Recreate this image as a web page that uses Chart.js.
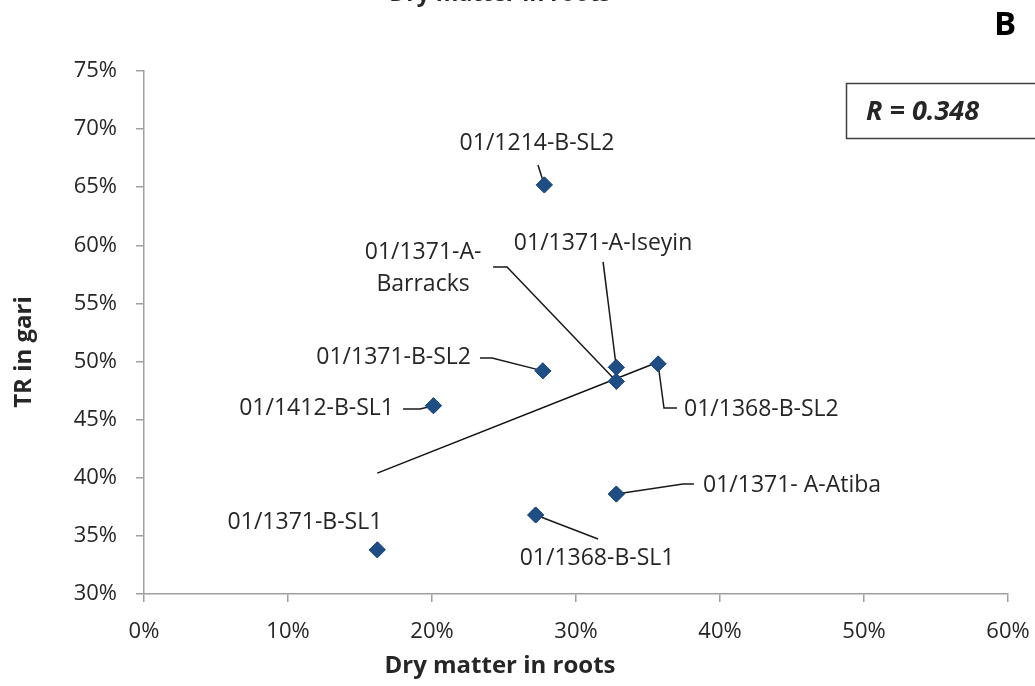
<!DOCTYPE html>
<html><head><meta charset="utf-8">
<script src="https://cdn.jsdelivr.net/npm/chart.js@4.4.1/dist/chart.umd.min.js"></script>
<style>html,body{margin:0;padding:0;background:#fff;}#wrap{width:1035px;height:686px;position:relative;}</style>
</head><body><div id="wrap"><canvas id="c" width="1035" height="686"></canvas></div>
<script>
// ---- data (percent units) ----
const genotypes = ['01/1214-B-SL2','01/1371-A-Iseyin','01/1371-A-Barracks','01/1371-B-SL2','01/1368-B-SL2','01/1412-B-SL1','01/1371- A-Atiba','01/1368-B-SL1','01/1371-B-SL1'];
const dryMatter = [27.8, 32.8, 32.8, 27.7, 35.7, 20.1, 32.8, 27.2, 16.2];
const trInGari  = [65.2, 49.5, 48.3, 49.2, 49.8, 46.2, 38.6, 36.8, 33.8];
const trendX = [16.2, 35.8];
const trendY = [40.4, 50.0];
const xTicks = [0, 10, 20, 30, 40, 50, 60];
const yTicks = [30, 35, 40, 45, 50, 55, 60, 65, 70, 75];
const xTitle = 'Dry matter in roots';
const yTitle = 'TR in gari';
const chartTitle = 'Dry matter in roots';
const rText = 'R = 0.348';

// ---- label annotations (data coords) ----
const labelCfg = [
  {lines:['01/1214-B-SL2'], at:[27.29,68.80], align:'center', leader:[[27.36,66.91]]},
  {lines:['01/1371-A-Iseyin'], at:[31.88,60.20], align:'center', leader:[[31.88,58.57]]},
  {lines:['01/1371-A-','Barracks'], at:[19.38,58.05], align:'center', leader:[[24.24,58.14],[25.21,58.14]]},
  {lines:['01/1371-B-SL2'], at:[22.71,50.31], align:'right', leader:[[23.33,50.31],[24.17,50.31]]},
  {lines:['01/1368-B-SL2'], at:[37.5,45.92], align:'left', leader:[[37.01,46.0],[36.11,46.0]]},
  {lines:['01/1412-B-SL1'], at:[17.36,46.0], align:'right', leader:[[17.99,45.92],[19.17,45.92]]},
  {lines:['01/1371- A-Atiba'], at:[38.82,39.38], align:'left', leader:[[38.19,39.46],[37.43,39.46]]},
  {lines:['01/1368-B-SL1'], at:[31.46,33.10], align:'center', leader:[[31.53,34.73]]},
  {lines:['01/1371-B-SL1'], at:[11.18,36.19], align:'center', leader:[]}
];

const FONT = "'Open Sans', 'DejaVu Sans', sans-serif";
const TXT = '#262626';
const AX = '#a0a0a0';

const labelPlugin = {
  id: 'labels',
  afterDatasetsDraw(chart) {
    const {ctx, scales:{x, y}} = chart;
    ctx.save();
    ctx.strokeStyle = '#1a1a1a';
    ctx.lineWidth = 1.5;
    labelCfg.forEach((c, i) => {
      if (c.leader.length) {
        ctx.beginPath();
        c.leader.forEach((p, k) => {
          const px = x.getPixelForValue(p[0]), py = y.getPixelForValue(p[1]);
          if (k === 0) ctx.moveTo(px, py); else ctx.lineTo(px, py);
        });
        ctx.lineTo(x.getPixelForValue(dryMatter[i]), y.getPixelForValue(trInGari[i]));
        ctx.stroke();
      }
      ctx.fillStyle = TXT;
      ctx.font = '23px ' + FONT;
      ctx.textAlign = c.align;
      ctx.textBaseline = 'middle';
      const cx = x.getPixelForValue(c.at[0]), cy = y.getPixelForValue(c.at[1]);
      const lh = 32;
      c.lines.forEach((t, k) => {
        ctx.fillText(t, cx, cy + (k - (c.lines.length - 1) / 2) * lh);
      });
    });
    const meta = chart.getDatasetMeta(0);
    meta.data.forEach(el => el.draw(ctx, chart.chartArea));
    ctx.restore();
  },
  afterDraw(chart) {
    const {ctx} = chart;
    ctx.save();
    ctx.fillStyle = TXT;
    ctx.font = 'bold 23px ' + FONT;
    ctx.textAlign = 'center';
    ctx.textBaseline = 'alphabetic';
    ctx.fillText(chartTitle, 500, 1);
    // axis titles
    ctx.font = 'bold 24px ' + FONT;
    ctx.textBaseline = 'middle';
    ctx.fillText(xTitle, 500, 666);
    ctx.save();
    ctx.translate(24, 352);
    ctx.rotate(-Math.PI / 2);
    ctx.fillText(yTitle, 0, 0);
    ctx.restore();
    // panel letter
    ctx.fillStyle = '#000';
    ctx.font = 'bold 33px ' + FONT;
    ctx.fillText('B', 1005, 26);
    // R box
    ctx.strokeStyle = '#404040';
    ctx.lineWidth = 1.5;
    ctx.strokeRect(846.5, 83.5, 200, 55);
    ctx.fillStyle = TXT;
    ctx.font = 'italic bold 27px ' + FONT;
    ctx.textAlign = 'left';
    ctx.fillText(rText, 866, 112);
    ctx.restore();
  }
};

new Chart(document.getElementById('c'), {
  type: 'scatter',
  data: {
    datasets: [
      {
        label: 'TR in gari',
        data: dryMatter.map((v, i) => ({x: v, y: trInGari[i]})),
        pointStyle: 'rectRot',
        pointRadius: 8,
        pointBackgroundColor: '#1F4E84',
        pointBorderColor: '#1F4E84',
        pointBorderWidth: 1,
        order: 0
      },
      {
        label: 'Trend',
        data: trendX.map((v, i) => ({x: v, y: trendY[i]})),
        showLine: true,
        borderColor: '#111',
        borderWidth: 1.5,
        pointRadius: 0,
        order: 1
      }
    ]
  },
  options: {
    responsive: false,
    animation: false,
    layout: {padding: {left: 0, right: 27, top: 71, bottom: 0}},
    plugins: {legend: {display: false}, tooltip: {enabled: false}, title: {display: false}},
    scales: {
      x: {
        type: 'linear', min: 0, max: 60,
        afterBuildTicks: s => { s.ticks = xTicks.map(v => ({value: v})); },
        afterFit: s => { s.height = 92; s.paddingRight = 0; s.paddingLeft = 0; },
        ticks: {callback: v => v + '%', font: {family: FONT, size: 22}, color: TXT, padding: 17, maxRotation: 0},
        grid: {drawOnChartArea: false, tickLength: 8, color: AX, lineWidth: 1.5},
        border: {color: AX, width: 1.5}
      },
      y: {
        type: 'linear', min: 30, max: 75,
        afterBuildTicks: s => { s.ticks = yTicks.map(v => ({value: v})); },
        afterFit: s => { s.width = 144; s.paddingTop = 0; s.paddingBottom = 0; },
        ticks: {callback: v => v + '%', font: {family: FONT, size: 22}, color: TXT, padding: 19},
        grid: {drawOnChartArea: false, tickLength: 8, color: AX, lineWidth: 1.5},
        border: {color: AX, width: 1.5}
      }
    }
  },
  plugins: [labelPlugin]
});
</script>
</body></html>
